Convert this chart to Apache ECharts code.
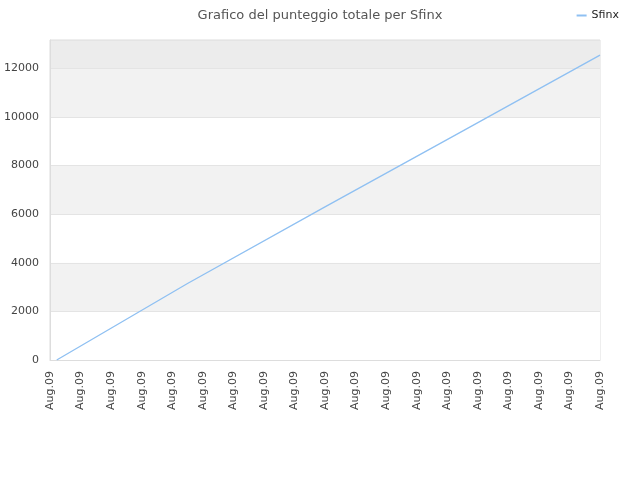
<!DOCTYPE html>
<html>
<head>
<meta charset="utf-8">
<script src="https://cdn.jsdelivr.net/npm/echarts@6/dist/echarts.min.js"></script>
<style>
  html, body { margin: 0; padding: 0; background: #fff; }
  #chart { width: 640px; height: 480px; }
</style>
</head>
<body>
<div id="chart"></div>
<script>
// etichette dell'asse x (tutte uguali nel grafico originale)
const dateLabels = ['Aug.09', 'Aug.09', 'Aug.09', 'Aug.09', 'Aug.09', 'Aug.09', 'Aug.09',
  'Aug.09', 'Aug.09', 'Aug.09', 'Aug.09', 'Aug.09', 'Aug.09', 'Aug.09', 'Aug.09',
  'Aug.09', 'Aug.09', 'Aug.09', 'Aug.09'];
// punti: [posizione sull'asse, punteggio]
const scorePos = [0.22, 4.5, 9, 13.5, 18];
const scoreVals = [0, 3150, 6300, 9420, 12550];

const chart = echarts.init(document.getElementById('chart'));
chart.setOption({
  animation: false,
  title: {
    text: 'Grafico del punteggio totale per Sfinx',
    left: 'center',
    top: 4,
    textStyle: { fontFamily: 'DejaVu Sans', fontSize: 13, fontWeight: 'normal', color: '#555' }
  },
  legend: {
    right: 16,
    top: 5,
    itemWidth: 10,
    itemHeight: 2,
    icon: 'rect',
    textStyle: { fontFamily: 'DejaVu Sans', fontSize: 11, color: '#222' },
    data: ['Sfinx']
  },
  grid: { left: 50, right: 40, top: 40, bottom: 120, show: true, borderColor: '#ddd', borderWidth: 1 },
  xAxis: {
    type: 'value',
    min: 0,
    max: dateLabels.length - 1,
    interval: 1,
    axisLine: { lineStyle: { color: '#ddd' } },
    axisTick: { show: false },
    splitLine: { show: false },
    axisLabel: {
      rotate: 90,
      fontFamily: 'DejaVu Sans',
      fontSize: 11,
      color: '#444',
      margin: 11,
      formatter: (v) => dateLabels[Math.round(v)] || ''
    }
  },
  yAxis: {
    type: 'value',
    min: 0,
    max: 13170,
    interval: 2000,
    axisLine: { show: true, lineStyle: { color: '#ddd' } },
    axisTick: { show: false },
    axisLabel: {
      fontFamily: 'DejaVu Sans',
      fontSize: 11,
      color: '#444',
      margin: 11,
      showMaxLabel: false,
      formatter: (v) => String(v)
    },
    splitLine: { lineStyle: { color: '#e4e4e4' } },
    splitArea: {
      show: true,
      areaStyle: { color: ['#ffffff', '#f2f2f2', '#ffffff', '#f2f2f2', '#ffffff', '#f2f2f2', '#ececec'] }
    }
  },
  series: [{
    name: 'Sfinx',
    type: 'line',
    showSymbol: false,
    color: '#8fc0f2',
    lineStyle: { width: 1.3 },
    data: scorePos.map((p, i) => [p, scoreVals[i]])
  }]
});
</script>
</body>
</html>
